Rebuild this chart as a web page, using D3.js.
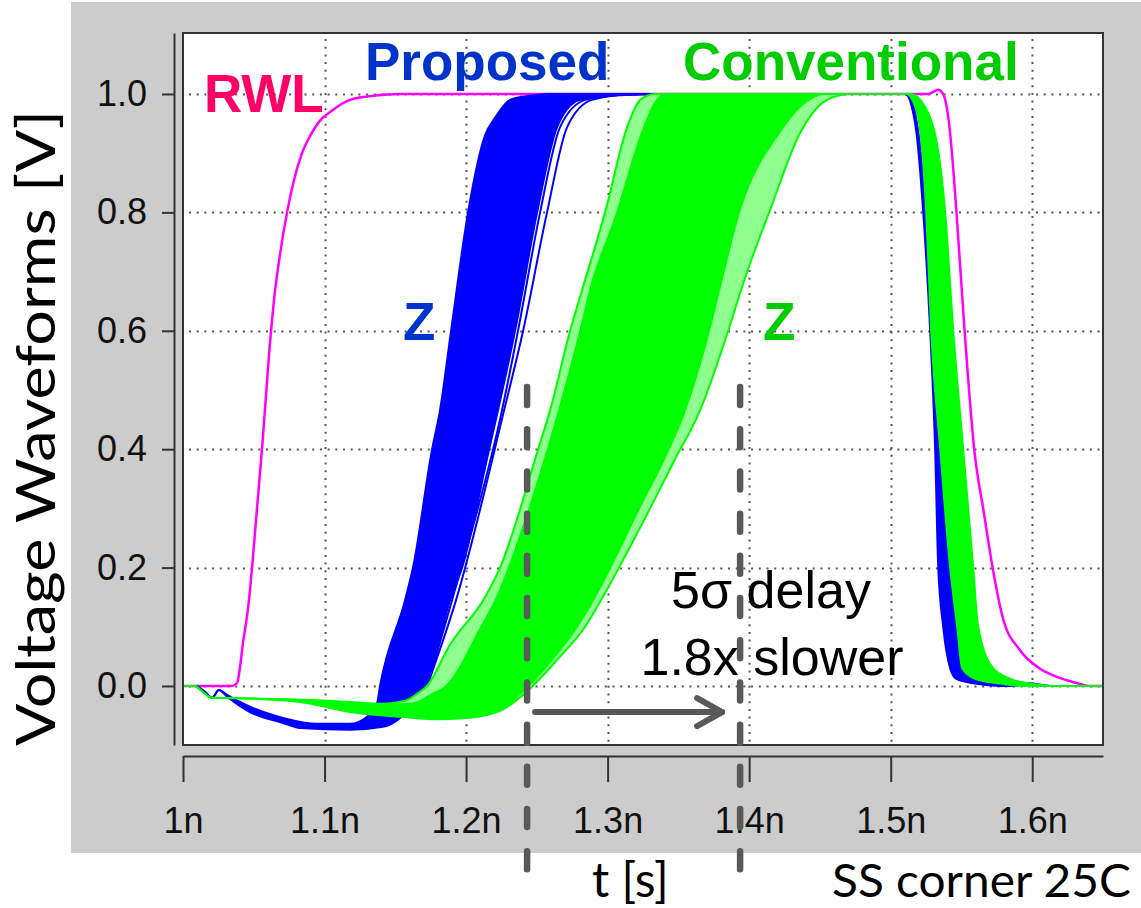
<!DOCTYPE html>
<html>
<head>
<meta charset="utf-8">
<script src="https://cdn.jsdelivr.net/npm/d3@7"></script>
<style>
  html, body { margin: 0; padding: 0; background: #ffffff; }
  svg { display: block; }
</style>
</head>
<body>
<svg id="chart" width="1141" height="908"></svg>
<script>
// ---- axis ticks ----
const xTicks = [1.0, 1.1, 1.2, 1.3, 1.4, 1.5, 1.6];
const xTickLabels = ["1n", "1.1n", "1.2n", "1.3n", "1.4n", "1.5n", "1.6n"];
const yTicks = [0, 0.2, 0.4, 0.6, 0.8, 1.0];
const yTickLabels = ["0.0", "0.2", "0.4", "0.6", "0.8", "1.0"];

// ---- waveforms: [time (ns), voltage (V)] ----
// read word line
const rwl = [[1.000,0],[1.0346,0],[1.0382,0.005],[1.0403,0.032],[1.0424,0.073],[1.0452,0.117],
  [1.0466,0.145],[1.0488,0.2],[1.0558,0.4],[1.0622,0.6],[1.0643,0.652],[1.0686,0.73],[1.0735,0.8],
  [1.0790,0.86],[1.0841,0.9],[1.0900,0.93],[1.0968,0.955],[1.1053,0.972],[1.1180,0.99],
  [1.1350,0.997],[1.1530,1.0],[1.5265,1.0],[1.5336,1.007],[1.5370,1.0],[1.5390,0.985],[1.5410,0.955],
  [1.5440,0.88],[1.5465,0.8],[1.5520,0.607],[1.5590,0.4],[1.5660,0.29],[1.5720,0.2],[1.5790,0.117],
  [1.5915,0.06],[1.6050,0.03],[1.6180,0.015],[1.6300,0.006],[1.6410,0],[1.6500,0]];

// Proposed Z: Monte Carlo spread, earliest and latest traces
const proposedEarly = [[1.0,0],[1.0085,0],[1.0155,-0.01],[1.0205,-0.02],[1.0254,-0.007],[1.0311,-0.015],
  [1.0473,-0.035],[1.0707,-0.054],[1.0947,-0.064],[1.1180,-0.064],[1.1300,-0.052],[1.1371,-0.029],
  [1.1392,0],[1.1569,0.145],[1.1625,0.2],[1.1760,0.4],[1.1816,0.466],[1.1894,0.6],[1.2014,0.8],
  [1.2134,0.93],[1.2205,0.96],[1.2311,0.99],[1.2450,0.997],[1.2594,1.0],[1.5102,1.0],[1.5173,0.95],
  [1.5230,0.8],[1.5279,0.6],[1.5314,0.4],[1.5336,0.2],[1.5371,0.1],[1.5420,0.03],[1.5463,0.012],
  [1.5597,0.004],[1.5774,0],[1.65,0]];
const proposedLate = [[1.0,0],[1.0085,0],[1.0155,-0.01],[1.0205,-0.02],[1.0254,-0.007],[1.0311,-0.018],
  [1.0473,-0.044],[1.0707,-0.0625],[1.0827,-0.071],[1.1180,-0.074],[1.1413,-0.069],[1.1534,-0.054],
  [1.1640,-0.025],[1.1724,0],[1.1887,0.145],[1.1972,0.2],[1.2163,0.4],[1.2226,0.466],[1.2346,0.6],
  [1.2502,0.8],[1.2643,0.944],[1.2806,0.99],[1.3088,0.998],[1.3392,1.0],[1.5124,1.0],[1.5251,0.8],
  [1.5293,0.6],[1.5350,0.4],[1.5420,0.2],[1.5470,0.1],[1.5527,0.03],[1.5724,0.012],[1.6007,0.004],
  [1.6127,0],[1.65,0]];
// two slow outlier traces on the right of the proposed band
const proposedOutlierA = [[1.1724,0],[1.1901,0.145],[1.2254,0.466],[1.2367,0.6],[1.2523,0.8],
  [1.2664,0.944],[1.2841,0.99],[1.3088,0.999],[1.3300,1.0]];
const proposedOutlierB = [[1.1724,0],[1.1929,0.145],[1.2269,0.466],[1.2403,0.6],[1.2572,0.8],
  [1.2714,0.944],[1.2890,0.99],[1.3150,0.999],[1.3392,1.0]];

// Conventional Z: outer spread (earliest / latest traces)
const conventionalEarly = [[1.0,0],[1.0085,0],[1.0120,-0.006],[1.0205,-0.02],[1.0452,-0.021],
  [1.0947,-0.024],[1.1180,-0.027],[1.1413,-0.03],[1.1569,-0.025],[1.1661,-0.012],[1.1724,0],
  [1.1887,0.07],[1.2134,0.15],[1.2240,0.2],[1.2509,0.4],[1.2594,0.466],[1.2735,0.6],[1.2820,0.669],
  [1.2982,0.8],[1.3138,0.944],[1.3230,0.99],[1.3336,1.0],[1.5110,1.0],[1.5187,0.968],[1.5251,0.8],
  [1.5286,0.6],[1.5350,0.4],[1.5420,0.2],[1.5470,0.1],[1.5505,0.03],[1.5597,0.012],[1.5774,0.004],
  [1.5915,0],[1.65,0]];
const conventionalLate = [[1.0,0],[1.0085,0],[1.0120,-0.006],[1.0205,-0.02],[1.0452,-0.021],
  [1.0827,-0.027],[1.1180,-0.044],[1.1534,-0.052],[1.1767,-0.056],[1.2007,-0.054],[1.2240,-0.042],
  [1.2403,-0.015],[1.2643,0.044],[1.2841,0.10],[1.2982,0.157],[1.3110,0.213],[1.3300,0.30],
  [1.3470,0.38],[1.3654,0.466],[1.3852,0.6],[1.3943,0.669],[1.4007,0.714],[1.4148,0.804],
  [1.4360,0.934],[1.4551,0.99],[1.4714,1.0],[1.5138,1.0],[1.5265,0.968],[1.5385,0.8],[1.5442,0.6],
  [1.5512,0.4],[1.5583,0.2],[1.5618,0.1],[1.5724,0.03],[1.5845,0.012],[1.5986,0.004],[1.6148,0],[1.65,0]];
// Conventional Z: densely packed core of the spread
const conventionalCoreEarly = [[1.0,0],[1.0085,0],[1.0120,-0.006],[1.0205,-0.02],[1.0452,-0.021],
  [1.0947,-0.024],[1.1180,-0.027],[1.1413,-0.03],[1.1620,-0.028],[1.1760,-0.012],[1.1850,0],
  [1.2100,0.1],[1.2200,0.145],[1.2440,0.3],[1.2650,0.466],[1.2800,0.6],[1.2870,0.669],[1.3060,0.8],
  [1.3250,0.944],[1.3340,0.99],[1.3400,1.0],[1.5110,1.0],[1.5187,0.968],[1.5251,0.8],[1.5286,0.6],
  [1.5350,0.4],[1.5420,0.2],[1.5470,0.1],[1.5505,0.03],[1.5597,0.012],[1.5774,0.004],[1.5915,0],[1.65,0]];
const conventionalCoreLate = [[1.0,0],[1.0085,0],[1.0120,-0.006],[1.0205,-0.02],[1.0452,-0.021],
  [1.0827,-0.027],[1.1180,-0.044],[1.1534,-0.052],[1.1767,-0.056],[1.2007,-0.054],[1.2240,-0.042],
  [1.2360,-0.02],[1.2615,0.044],[1.2792,0.10],[1.2933,0.157],[1.3053,0.213],[1.3230,0.30],
  [1.3400,0.38],[1.3555,0.466],[1.3724,0.6],[1.3795,0.669],[1.3936,0.8],[1.4219,0.934],[1.4431,0.99],
  [1.4572,1.0],[1.5138,1.0],[1.5265,0.968],[1.5385,0.8],[1.5442,0.6],[1.5512,0.4],[1.5583,0.2],
  [1.5618,0.1],[1.5724,0.03],[1.5845,0.012],[1.5986,0.004],[1.6148,0],[1.65,0]];

// 5-sigma delay markers (ns) and the level of the arrow between them (V)
const delayMarkers = [1.2431, 1.3936];
const delayArrowLevel = -0.044;
const delayMarkerTop = 0.51;

// ---- layout ----
const svg = d3.select("#chart");
const plot = { left: 183, top: 33, right: 1103, bottom: 745 };

const x = d3.scaleLinear().domain([1.0, 1.65]).range([plot.left, plot.right]);
const y = d3.scaleLinear().domain([-0.0997, 1.103]).range([plot.bottom, plot.top]);

// grey panel behind the plot
svg.append("rect").attr("x", 71).attr("y", 2).attr("width", 1070).attr("height", 851)
  .attr("fill", "#cccccc");

// plot area
svg.append("rect").attr("x", plot.left).attr("y", plot.top)
  .attr("width", plot.right - plot.left).attr("height", plot.bottom - plot.top)
  .attr("fill", "#ffffff");

svg.append("clipPath").attr("id", "plotClip").append("rect")
  .attr("x", plot.left).attr("y", plot.top)
  .attr("width", plot.right - plot.left).attr("height", plot.bottom - plot.top);

// dotted grid
const grid = svg.append("g").attr("stroke", "#555").attr("stroke-width", 2)
  .attr("stroke-dasharray", "2 5.7");
grid.selectAll("line.v").data(xTicks.slice(1)).join("line").attr("class", "v")
  .attr("x1", d => Math.round(x(d)) + 0.5).attr("x2", d => Math.round(x(d)) + 0.5)
  .attr("y1", plot.top + 6).attr("y2", plot.bottom);
grid.selectAll("line.h").data(yTicks).join("line").attr("class", "h")
  .attr("y1", d => Math.round(y(d)) + 0.5).attr("y2", d => Math.round(y(d)) + 0.5)
  .attr("x1", plot.left + 6).attr("x2", plot.right);

// waveforms
const line = d3.line().x(d => x(d[0])).y(d => y(d[1])).curve(d3.curveMonotoneX);
const band = (a, b) => line(a) + line(b.slice().reverse()).replace(/^M/, "L") + "Z";

const traces = svg.append("g").attr("clip-path", "url(#plotClip)")
  .attr("fill", "none").attr("stroke-linejoin", "round");

const magenta = "#ff00ff", blue = "#0000ff", green = "#00ff00";

traces.append("path").attr("d", line(rwl)).attr("stroke", magenta).attr("stroke-width", 2.5);

traces.append("path").attr("d", band(proposedEarly, proposedLate)).attr("fill", blue);
[proposedEarly, proposedLate, proposedOutlierA, proposedOutlierB].forEach(tr =>
  traces.append("path").attr("d", line(tr)).attr("stroke", blue).attr("stroke-width", 2));

traces.append("path").attr("d", band(conventionalEarly, conventionalLate)).attr("fill", "#8fff8f");
traces.append("path").attr("d", band(conventionalCoreEarly, conventionalCoreLate)).attr("fill", green);
[conventionalEarly, conventionalLate].forEach(tr =>
  traces.append("path").attr("d", line(tr)).attr("stroke", green).attr("stroke-width", 2));

// plot frame
svg.append("rect").attr("x", plot.left).attr("y", plot.top)
  .attr("width", plot.right - plot.left).attr("height", plot.bottom - plot.top)
  .attr("fill", "none").attr("stroke", "#333").attr("stroke-width", 2);

// axes
const tickFont = "'Liberation Sans', Arial, sans-serif";
const yAxis = svg.append("g").attr("transform", "translate(174,0)")
  .call(d3.axisLeft(y).tickValues(yTicks).tickFormat((d, i) => yTickLabels[i])
    .tickSizeInner(12).tickSizeOuter(0).tickPadding(15));
const xAxis = svg.append("g").attr("transform", "translate(0,756)")
  .call(d3.axisBottom(x).tickValues(xTicks).tickFormat((d, i) => xTickLabels[i])
    .tickSizeInner(26).tickSizeOuter(0).tickPadding(25));
[yAxis, xAxis].forEach(ax => {
  ax.selectAll("path, line").attr("stroke", "#333").attr("stroke-width", 2);
  ax.selectAll("text").attr("font-family", tickFont).attr("font-size", 36).attr("fill", "#111");
});

// axis titles and notes
const labelFont = "Lato, 'Open Sans', sans-serif";
svg.append("text").attr("transform", "translate(55,428) rotate(-90)")
  .attr("text-anchor", "middle").attr("font-family", labelFont).attr("font-size", 54)
  .attr("textLength", 636).attr("lengthAdjust", "spacingAndGlyphs")
  .attr("fill", "#000").text("Voltage Waveforms [V]");
svg.append("text").attr("x", 592).attr("y", 897).attr("font-family", labelFont)
  .attr("font-size", 48).attr("fill", "#000").text("t [s]");
svg.append("text").attr("x", 832).attr("y", 897).attr("font-family", labelFont)
  .attr("font-size", 46).attr("textLength", 299).attr("lengthAdjust", "spacingAndGlyphs")
  .attr("fill", "#000").text("SS corner 25C");

// series labels
const boldFont = "'Liberation Sans', Arial, sans-serif";
const seriesLabels = [
  { text: "RWL", x: 204, y: 112, color: "#ff0066" },
  { text: "Proposed", x: 365, y: 80, color: "#0033cc" },
  { text: "Conventional", x: 683, y: 80, color: "#00cc00" },
  { text: "Z", x: 403, y: 340, color: "#0033cc" },
  { text: "Z", x: 763, y: 340, color: "#00cc00" }
];
svg.append("g").selectAll("text").data(seriesLabels).join("text")
  .attr("x", d => d.x).attr("y", d => d.y)
  .attr("font-family", boldFont).attr("font-weight", "bold").attr("font-size", 53)
  .attr("fill", d => d.color).text(d => d.text);

// delay annotation
const noteColor = "#595959";
const notes = svg.append("g");
notes.selectAll("line.marker").data(delayMarkers).join("line").attr("class", "marker")
  .attr("x1", d => x(d)).attr("x2", d => x(d))
  .attr("y1", y(delayMarkerTop) + 3).attr("y2", 870)
  .attr("stroke", noteColor).attr("stroke-width", 6.5).attr("stroke-linecap", "round")
  .attr("stroke-dasharray", "18 24.2");
const ay = y(delayArrowLevel);
const ax0 = x(delayMarkers[0]) + 8, ax1 = x(delayMarkers[1]) - 18;
notes.append("line").attr("x1", ax0).attr("x2", ax1).attr("y1", ay).attr("y2", ay)
  .attr("stroke", noteColor).attr("stroke-width", 6).attr("stroke-linecap", "round");
notes.append("path")
  .attr("d", `M${ax1 - 25},${ay - 14}L${ax1},${ay}L${ax1 - 25},${ay + 14}`)
  .attr("fill", "none").attr("stroke", noteColor).attr("stroke-width", 6)
  .attr("stroke-linecap", "round").attr("stroke-linejoin", "round");
notes.append("text").attr("x", 771).attr("y", 608).attr("text-anchor", "middle")
  .attr("font-family", tickFont).attr("font-size", 52).attr("fill", "#000").text("5σ delay");
notes.append("text").attr("x", 772).attr("y", 675).attr("text-anchor", "middle")
  .attr("font-family", tickFont).attr("font-size", 52).attr("fill", "#000").text("1.8x slower");
</script>
</body>
</html>
